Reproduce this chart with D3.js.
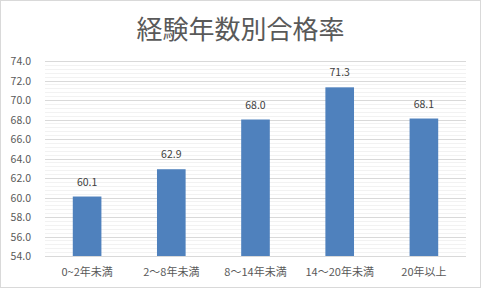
<!DOCTYPE html>
<html>
<head>
<meta charset="utf-8">
<script src="https://cdn.jsdelivr.net/npm/d3@7"></script>
<style>
  body { margin: 0; background: #fff; }
  text { font-family: "Noto Sans CJK JP", "Noto Sans", sans-serif; fill: #595959; }
</style>
</head>
<body>
<svg id="chart"></svg>
<script>
const categories = ['0~2年未満', '2～8年未満', '8～14年未満', '14～20年未満', '20年以上'];
const rates = [60.1, 62.9, 68.0, 71.3, 68.1];
const yTicks = [54, 56, 58, 60, 62, 64, 66, 68, 70, 72, 74];
const chartTitle = '経験年数別合格率';

const width = 481, height = 288;
const margin = { top: 61, right: 15, bottom: 32, left: 45 };

const svg = d3.select('#chart')
  .attr('width', width)
  .attr('height', height);

// outer border
svg.append('rect')
  .attr('x', 0.5).attr('y', 0.5)
  .attr('width', width - 1).attr('height', height - 1)
  .attr('fill', '#fff')
  .attr('stroke', '#d9d9d9');

const x = d3.scaleBand()
  .domain(categories)
  .range([margin.left, width - margin.right])
  .paddingInner(0.66)
  .paddingOuter(0.33);

const y = d3.scaleLinear()
  .domain([54, 74])
  .range([height - margin.bottom, margin.top]);

// minor gridlines
const minor = d3.range(54, 74.001, 0.4).filter(v => Math.abs(v / 2 - Math.round(v / 2)) > 0.01);
svg.append('g')
  .selectAll('line')
  .data(minor)
  .enter()
  .append('line')
  .attr('x1', margin.left)
  .attr('x2', width - margin.right)
  .attr('y1', d => Math.round(y(d)) + 0.5)
  .attr('y2', d => Math.round(y(d)) + 0.5)
  .attr('stroke', '#f2f2f2');

// major gridlines
svg.append('g')
  .selectAll('line')
  .data(yTicks)
  .enter()
  .append('line')
  .attr('x1', margin.left)
  .attr('x2', width - margin.right)
  .attr('y1', d => Math.round(y(d)) + 0.5)
  .attr('y2', d => Math.round(y(d)) + 0.5)
  .attr('stroke', '#d9d9d9');

// y labels
svg.append('g')
  .selectAll('text')
  .data(yTicks)
  .enter()
  .append('text')
  .attr('x', 31)
  .attr('y', d => y(d) + 4)
  .attr('text-anchor', 'end')
  .style('font-size', '10.5px')
  .text(d => d.toFixed(1));

// bars
svg.append('g')
  .selectAll('rect')
  .data(rates)
  .enter()
  .append('rect')
  .attr('x', (d, i) => x(categories[i]))
  .attr('width', x.bandwidth())
  .attr('y', d => y(d))
  .attr('height', d => y(54) - y(d))
  .attr('fill', '#4f81bd');

// value labels
svg.append('g')
  .selectAll('text')
  .data(rates)
  .enter()
  .append('text')
  .attr('x', (d, i) => x(categories[i]) + x.bandwidth() / 2)
  .attr('y', d => y(d) - 11)
  .attr('text-anchor', 'middle')
  .style('font-size', '10.5px')
  .style('fill', '#404040')
  .text(d => d.toFixed(1));

// axis line
svg.append('line')
  .attr('x1', margin.left)
  .attr('x2', width - margin.right)
  .attr('y1', Math.round(y(54)) + 0.5)
  .attr('y2', Math.round(y(54)) + 0.5)
  .attr('stroke', '#d9d9d9');

// category labels
svg.append('g')
  .selectAll('text')
  .data(categories)
  .enter()
  .append('text')
  .attr('x', d => x(d) + x.bandwidth() / 2)
  .attr('y', height - 12)
  .attr('text-anchor', 'middle')
  .style('font-size', '11px')
  .text(d => d);

// title
svg.append('text')
  .attr('x', width / 2)
  .attr('y', 39)
  .attr('text-anchor', 'middle')
  .style('font-size', '26px')
  .text(chartTitle);
</script>
</body>
</html>
